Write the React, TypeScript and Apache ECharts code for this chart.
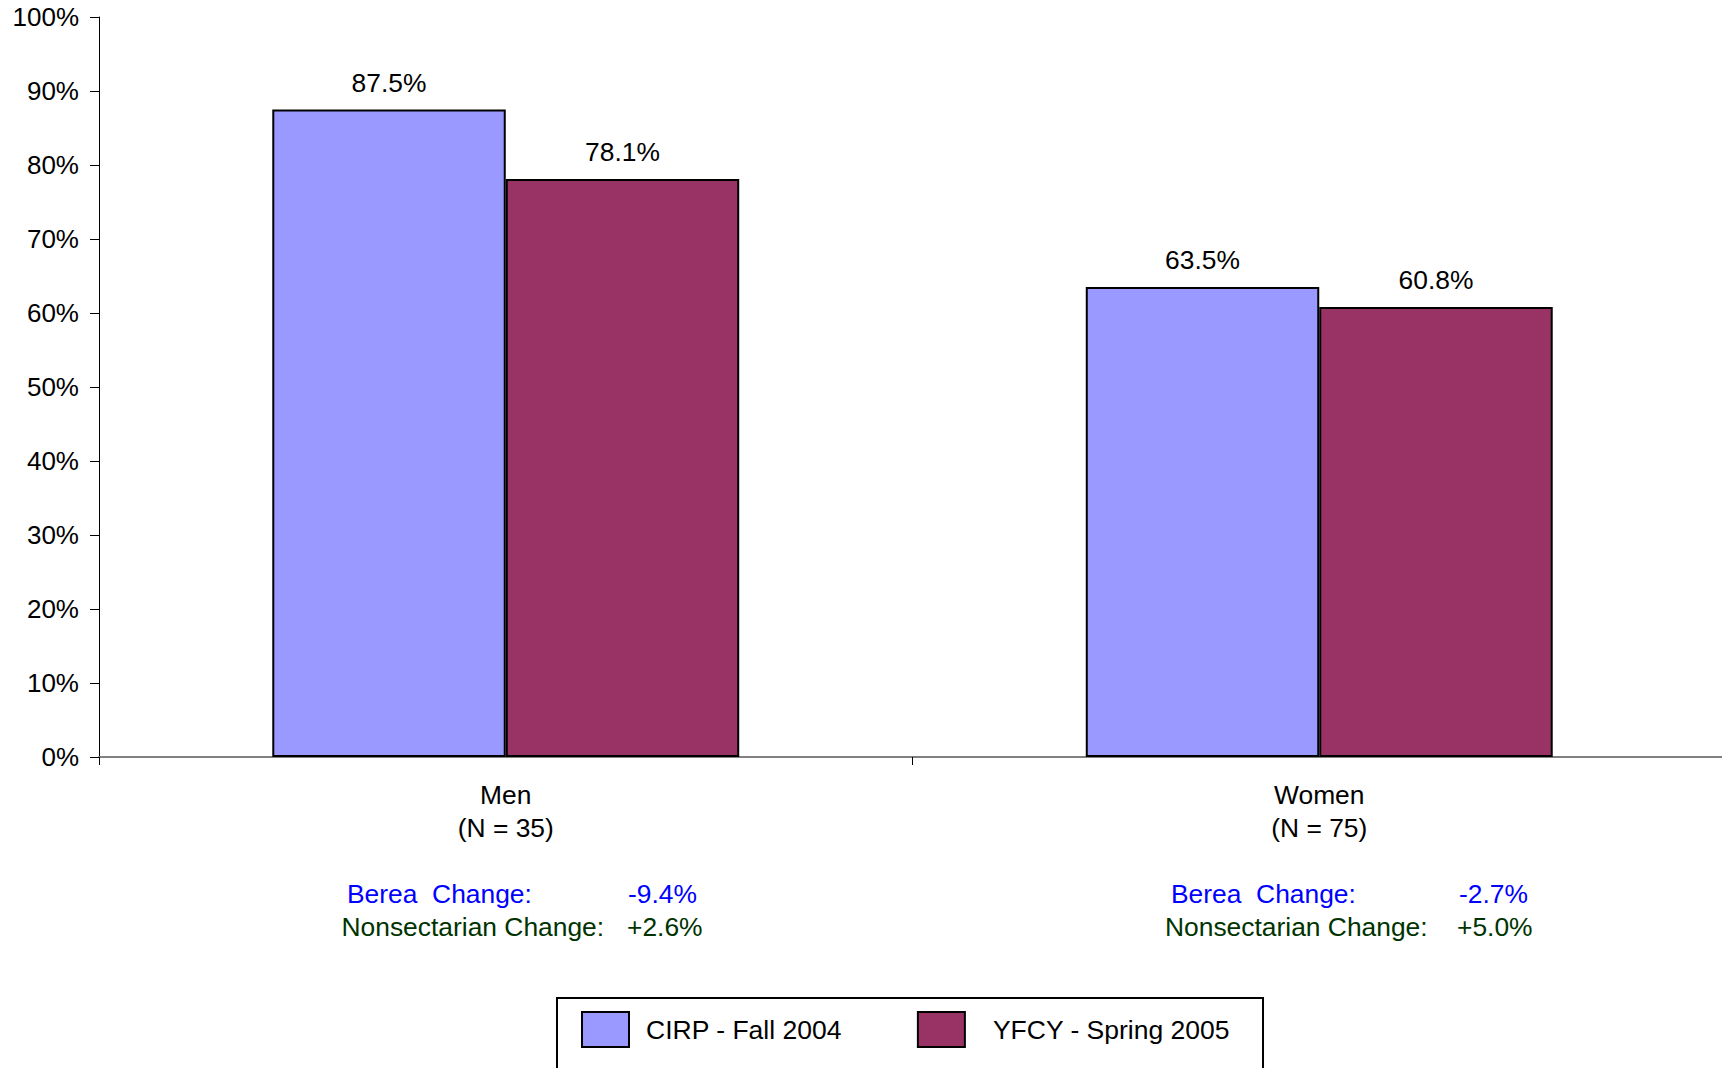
import React, { useEffect, useRef } from "react";
import * as echarts from "echarts";

const categories = ["Men\n(N = 35)", "Women\n(N = 75)"];
const seriesNames = ["CIRP - Fall 2004", "YFCY - Spring 2005"];
const cirpValues = [87.5, 63.5];
const yfcyValues = [78.1, 60.8];
const bereaChange = ["-9.4%", "-2.7%"];
const nonsectarianChange = ["+2.6%", "+5.0%"];
const bereaLabel = "Berea  Change:";
const nonsectarianLabel = "Nonsectarian Change:";

const FONT = "'Liberation Sans', Arial, Helvetica, sans-serif";
const FS = 26.4;

export default function App() {
  const ref = useRef<HTMLDivElement>(null);

  useEffect(() => {
    if (!ref.current) return;
    const chart = echarts.init(ref.current, undefined, { renderer: "svg" });

    const noteX = [
      { label: 347, value: 628, label2: 341.5, value2: 627 },
      { label: 1171, value: 1459, label2: 1165, value2: 1457 },
    ];
    const graphics: any[] = [];
    const st = (text: string, fill: string) => ({
      text,
      fill,
      fontSize: FS,
      fontFamily: FONT,
      verticalAlign: "middle",
      align: "left",
    });
    noteX.forEach((p, i) => {
      graphics.push(
        { type: "text", x: p.label, y: 894, style: st(bereaLabel, "#0000FF") },
        { type: "text", x: p.value, y: 894, style: st(bereaChange[i], "#0000FF") },
        { type: "text", x: p.label2, y: 927, style: st(nonsectarianLabel, "#003300") },
        { type: "text", x: p.value2, y: 927, style: st(nonsectarianChange[i], "#003300") }
      );
    });

    const labelCfg = {
      show: true,
      position: "top",
      distance: 14,
      fontSize: FS,
      fontFamily: FONT,
      color: "#000",
      formatter: (p: any) => Number(p.value).toFixed(1) + "%",
    };

    chart.setOption({
      animation: false,
      backgroundColor: "#fff",
      textStyle: { fontFamily: FONT },
      grid: { left: 99, right: 0, top: 17, bottom: 311, containLabel: false },
      legend: {
        data: [
          { name: seriesNames[0], textStyle: { padding: [0, 0, 0, 12] } },
          { name: seriesNames[1], textStyle: { padding: [0, 0, 0, 23] } },
        ],
        left: 557,
        top: 998,
        orient: "horizontal",
        padding: [13, 33, 40, 24],
        itemGap: 75,
        itemWidth: 47,
        itemHeight: 35,
        borderColor: "#000",
        borderWidth: 2,
        icon: "rect",
        itemStyle: { borderColor: "#000", borderWidth: 2 },
        textStyle: { fontSize: 26.5, fontFamily: FONT, color: "#000" },
      },
      xAxis: {
        type: "category",
        data: categories,
        axisLine: { lineStyle: { color: "#808080", width: 2 } },
        axisTick: { show: true, length: 8, interval: 0, alignWithLabel: false, lineStyle: { color: "#000", width: 1 } },
        axisLabel: { fontSize: FS, lineHeight: 33, margin: 21, color: "#000", fontFamily: FONT, interval: 0 },
        splitLine: { show: false },
      },
      yAxis: {
        type: "value",
        min: 0,
        max: 100,
        interval: 10,
        axisLine: { show: true, lineStyle: { color: "#000", width: 1 } },
        axisTick: { show: true, length: 9, inside: false, lineStyle: { color: "#000" } },
        axisLabel: { formatter: "{value}%", fontSize: 26, margin: 20, color: "#000", fontFamily: FONT },
        splitLine: { show: false },
      },
      series: [
        {
          name: seriesNames[0],
          type: "bar",
          data: cirpValues,
          barGap: "0%",
          barCategoryGap: "42.6%",
          itemStyle: { color: "#9999FF", borderColor: "#000", borderWidth: 2 },
          label: labelCfg,
        },
        {
          name: seriesNames[1],
          type: "bar",
          data: yfcyValues,
          barGap: "0%",
          barCategoryGap: "42.6%",
          itemStyle: { color: "#993366", borderColor: "#000", borderWidth: 2 },
          label: labelCfg,
        },
      ],
      graphic: graphics,
    });

    return () => chart.dispose();
  }, []);

  return (
    <div
      style={{ position: "fixed", left: 0, top: 0, width: 1722, height: 1068, overflow: "hidden", background: "#fff" }}
    >
      <div ref={ref} style={{ position: "absolute", left: 0, top: 0, width: 1726, height: 1068 }} />
    </div>
  );
}
